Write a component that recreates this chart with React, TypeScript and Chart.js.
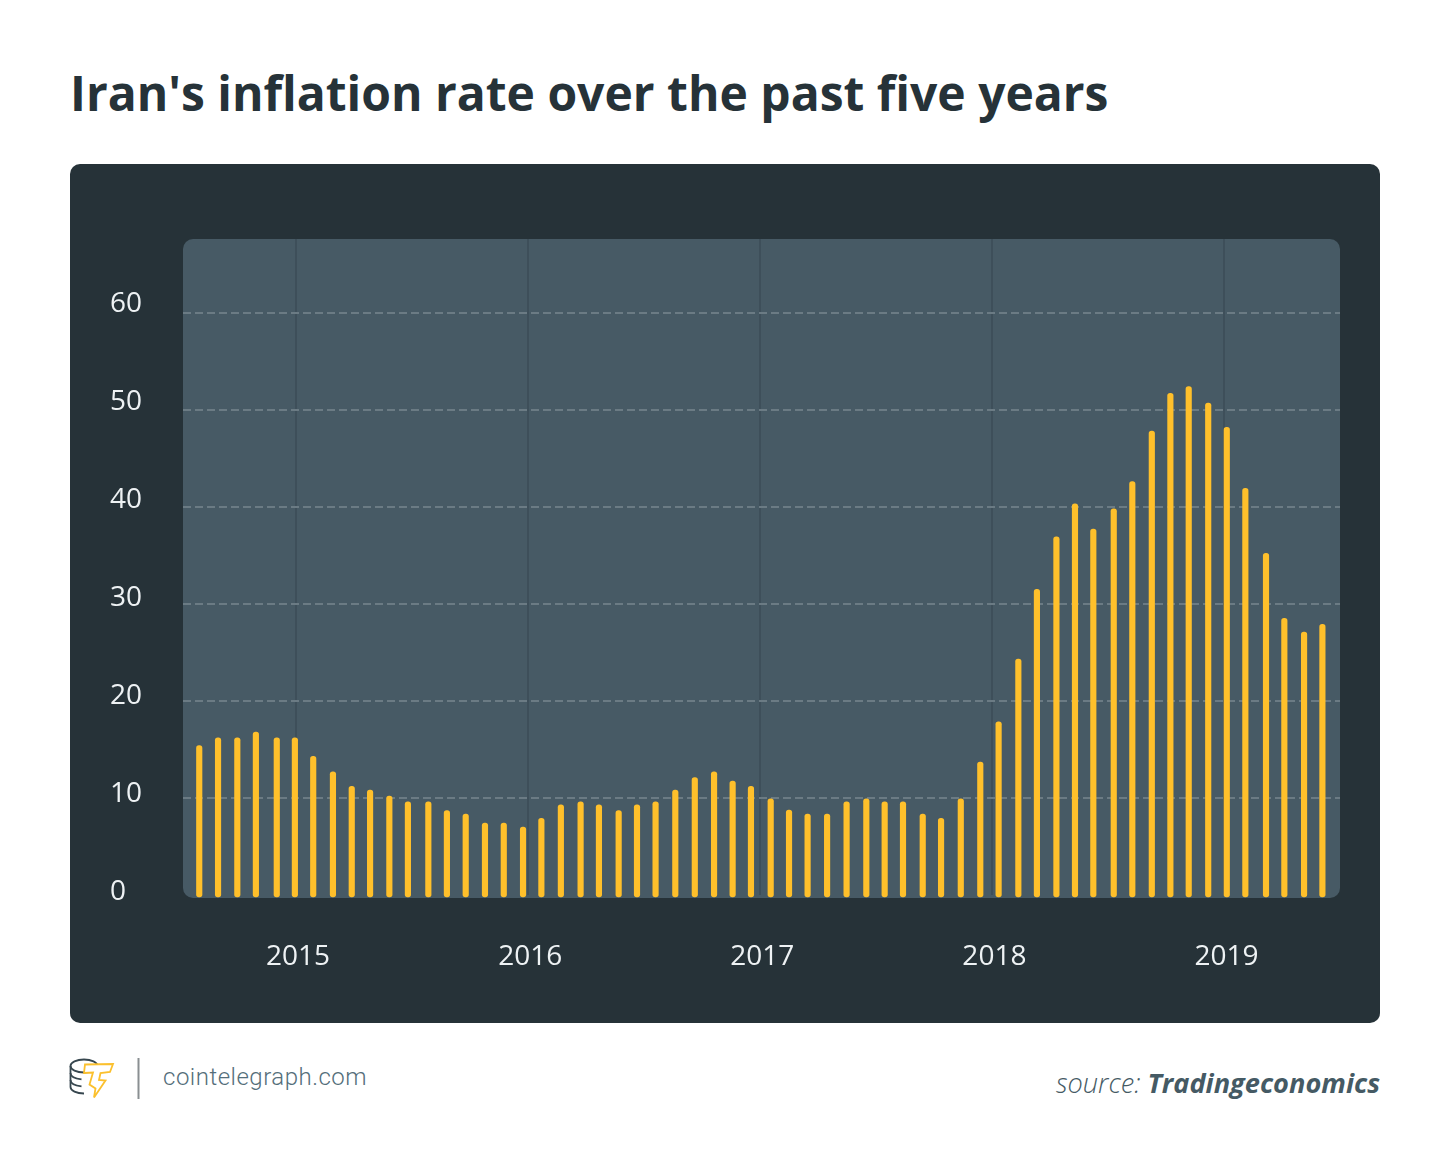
import { useEffect, useRef } from "react";
import { Chart, registerables } from "chart.js";

Chart.register(...registerables);

// sample dates in decimal years
const sampleYears = [
  2014.585, 2014.666, 2014.749, 2014.829, 2014.919, 2014.997, 2015.076, 2015.161, 2015.242, 2015.321,
  2015.404, 2015.484, 2015.572, 2015.652, 2015.733, 2015.816, 2015.897, 2015.98, 2016.059, 2016.143,
  2016.228, 2016.307, 2016.392, 2016.471, 2016.551, 2016.636, 2016.72, 2016.803, 2016.883, 2016.962,
  2017.047, 2017.126, 2017.206, 2017.29, 2017.374, 2017.459, 2017.538, 2017.617, 2017.702, 2017.781,
  2017.866, 2017.95, 2018.029, 2018.114, 2018.194, 2018.278, 2018.358, 2018.437, 2018.525, 2018.605,
  2018.689, 2018.769, 2018.848, 2018.932, 2019.012, 2019.092, 2019.181, 2019.26, 2019.345, 2019.424,
];

const inflation = [
  15.4, 16.2, 16.2, 16.8, 16.2, 16.2, 14.3, 12.7, 11.2, 10.8,
  10.2, 9.6, 9.6, 8.7, 8.35, 7.4, 7.4, 7.0, 7.9, 9.3,
  9.6, 9.3, 8.7, 9.3, 9.6, 10.8, 12.1, 12.7, 11.75, 11.2,
  9.9, 8.75, 8.35, 8.35, 9.6, 9.9, 9.6, 9.6, 8.35, 7.9,
  9.9, 13.7, 17.85, 24.3, 31.5, 36.9, 40.3, 37.7, 39.8, 42.6,
  47.8, 51.7, 52.4, 50.7, 48.2, 41.9, 35.2, 28.5, 27.1, 27.9,
];

const gridValues = [10, 20, 30, 40, 50, 60];
const yLabels = [0, 10, 20, 30, 40, 50, 60];
const years = [2015, 2016, 2017, 2018, 2019];

const plotBackground = {
  id: "plotBackground",
  beforeDraw(chart: any) {
    const { ctx, chartArea } = chart;
    ctx.save();
    ctx.fillStyle = "#475a65";
    ctx.beginPath();
    ctx.roundRect(chartArea.left, chartArea.top, chartArea.width, chartArea.height + 3, 10);
    ctx.fill();
    ctx.restore();
  },
};

const toTicks = (values: number[]) => values.map((value) => ({ value }));

export default function App() {
  const chartRef = useRef<HTMLCanvasElement>(null);

  useEffect(() => {
    if (!chartRef.current) return;
    const chart = new Chart(chartRef.current, {
      type: "bar",
      data: {
        datasets: [
          {
            label: "Inflation",
            data: sampleYears.map((x, i) => ({ x, y: inflation[i] })),
            backgroundColor: "#ffc02b",
            barThickness: 5.5,
            borderRadius: 3,
            borderSkipped: false,
            base: -0.2,
            clip: false,
          },
        ],
      },
      options: {
        responsive: false,
        animation: false,
        layout: { padding: { top: 75, right: 40, left: 40, bottom: 0 } },
        plugins: { legend: { display: false }, tooltip: { enabled: false }, title: { display: false } },
        scales: {
          x: {
            type: "linear",
            offset: false,
            min: 2014.515,
            max: 2019.4998,
            afterBuildTicks: (scale: any) => {
              scale.ticks = toTicks(years);
            },
            afterFit: (scale: any) => {
              scale.height = 128;
            },
            border: { display: false },
            grid: { offset: false, color: "#3e4f5a", lineWidth: 2, drawTicks: false },
            ticks: {
              color: "#eef2f4",
              font: { family: "'Open Sans'", size: 28 },
              padding: 45,
              labelOffset: 2.5,
              maxRotation: 0,
              callback: (value: any) => String(value),
            },
          },
          y: {
            position: "left",
            min: 0,
            max: 67.6,
            afterBuildTicks: (scale: any) => {
              scale.ticks = toTicks(gridValues);
            },
            afterFit: (scale: any) => {
              scale.width = 0;
            },
            border: { display: false, dash: [8, 4] },
            grid: { color: "#6b7b84", lineWidth: 2, drawTicks: false },
            ticks: { display: false },
          },
          // the printed numbers sit on a slightly wider step than the grid lines
          yLabels: {
            position: "left",
            min: -0.31,
            max: 66.63,
            afterBuildTicks: (scale: any) => {
              scale.ticks = toTicks(yLabels);
            },
            afterFit: (scale: any) => {
              scale.width = 73;
            },
            border: { display: false },
            grid: { display: false, drawTicks: false },
            ticks: {
              color: "#eef2f4",
              font: { family: "'Open Sans'", size: 28 },
              crossAlign: "far",
              padding: 0,
            },
          },
        },
      } as any,
      plugins: [plotBackground],
    });
    return () => chart.destroy();
  }, []);

  return (
    <div style={{ position: "fixed", left: 0, top: 0, width: 1450, height: 1164, background: "#fff", overflow: "hidden" }}>
      <div
        style={{
          position: "absolute",
          left: 70,
          top: 60,
          fontFamily: "'Open Sans'",
          fontWeight: 700,
          fontSize: 48,
          lineHeight: "66px",
          color: "#263238",
          whiteSpace: "nowrap",
        }}
      >
        Iran's inflation rate over the past five years
      </div>
      <div style={{ position: "absolute", left: 70, top: 164, width: 1310, height: 859, background: "#263238", borderRadius: 10 }}>
        <canvas ref={chartRef} width={1310} height={859} style={{ display: "block" }} />
      </div>
      <svg style={{ position: "absolute", left: 0, top: 1040 }} width={150} height={70} viewBox="0 1040 150 70">
        <g fill="none" stroke="#37474f" strokeWidth={1.8}>
          <ellipse cx={84} cy={1066} rx={13.5} ry={6.5} />
          <path d="M70.5 1066v21c0 3.6 6 6.5 13.5 6.5" />
          <path d="M70.5 1073c0 3 4 5.5 11 6.3M70.5 1080c0 3 4 5.5 11 6.3" />
        </g>
        <path
          d="M85 1064.5L113 1064l-3 8-9.5 1-1.5 7 6.5 .5L94 1097.5l1.5-9-6-4 3.5-12-9 .5z"
          fill="#fff"
          stroke="#fbc02d"
          strokeWidth={1.8}
        />
        <rect x={137.5} y={1058} width={2} height={41} fill="#8a8f92" />
      </svg>
      <div
        style={{
          position: "absolute",
          left: 163,
          top: 1060,
          fontFamily: "Roboto",
          fontWeight: 300,
          fontSize: 24,
          lineHeight: "34px",
          letterSpacing: 0.5,
          color: "#546e7a",
          whiteSpace: "nowrap",
        }}
      >
        cointelegraph.com
      </div>
      <div
        style={{
          position: "absolute",
          right: 70,
          top: 1065,
          fontFamily: "'Open Sans'",
          fontStyle: "italic",
          fontSize: 27.2,
          lineHeight: "36px",
          color: "#455a64",
          whiteSpace: "nowrap",
        }}
      >
        <span style={{ fontWeight: 300 }}>source: </span>
        <span style={{ fontWeight: 700 }}>Tradingeconomics</span>
      </div>
    </div>
  );
}
